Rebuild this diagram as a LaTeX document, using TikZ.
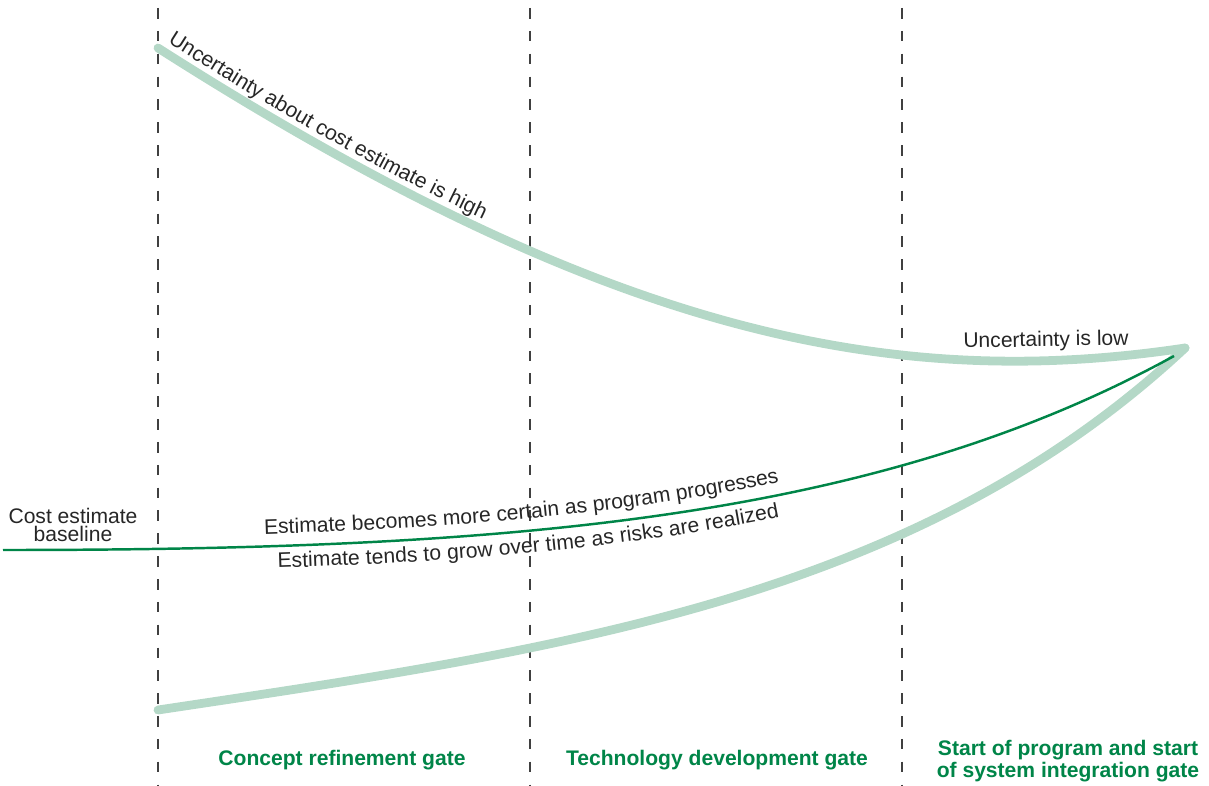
\documentclass[tikz,border=0pt]{standalone}
\usepackage{fontspec}
\setmainfont{Liberation Sans}
\usetikzlibrary{decorations.text}
\definecolor{bandgreen}{RGB}{180,216,199}
\definecolor{gategreen}{RGB}{0,133,72}
\tikzstyle{uncertaintyband}=[bandgreen,line width=5pt,line cap=round]
\tikzstyle{estimateline}=[gategreen,line width=1.4pt]
\tikzstyle{gateline}=[black!75,line width=0.6pt,dash pattern=on 6pt off 7pt]
\tikzstyle{gatelabel}=[gategreen,font=\fontsize{12}{10.4}\selectfont\bfseries,align=center,inner sep=0pt]
\tikzstyle{curvelabel}=[text=black!85,font=\fontsize{12}{10.4}\selectfont,align=center,inner sep=0pt]
\newcommand{\lbl}{\fontsize{12}{10.4}\selectfont}

\begin{document}
\begin{tikzpicture}[x=0.02cm,y=-0.02cm]
  \useasboundingbox (0,0) rectangle (1209,786);
  % gates
  \foreach \gx [count=\i] in {158,530,902} {
    \coordinate (gate\i top) at (\gx,8);
    \coordinate (gate\i bot) at (\gx,786);
    \draw[gateline] (gate\i top) -- (gate\i bot);
  }
  \coordinate (tip) at (1185,348);
  \coordinate (highstart) at (158,48);
  \coordinate (lowstart) at (158,710);
  \coordinate (basestart) at (3,550);
  \coordinate (baseend) at (1174,356);
  % uncertainty band and estimate
  \draw[uncertaintyband] (highstart) .. controls (600,330) and (885,393) .. (tip);
  \draw[uncertaintyband] (lowstart) .. controls (558,650) and (915,600) .. (tip);
  \draw[estimateline] (basestart) .. controls (503,550) and (874,521) .. (baseend);
  % texts on the curves
  \path[decorate,decoration={text along path,text={|\lbl|Uncertainty about cost estimate is high},
    text color=black!85,raise=5.5pt,text align={left indent=3pt}}]
    (highstart) .. controls (600,330) and (885,393) .. (tip);
  \path[decorate,decoration={text along path,text={|\lbl|Estimate becomes more certain as program progresses},
    text color=black!85,raise=7pt,text align={left indent=149pt}}]
    (basestart) .. controls (503,550) and (874,521) .. (baseend);
  \path[decorate,decoration={text along path,text={|\lbl|Estimate tends to grow over time as risks are realized},
    text color=black!85,raise=-12.5pt,text align={left indent=156pt}}]
    (basestart) .. controls (503,550) and (874,521) .. (baseend);
  \node[curvelabel,rotate=1] (low) at (1046,341) {Uncertainty is low};
  \node[curvelabel] (baseline) at (73,525) {Cost estimate\\baseline};
  % gate names
  \node[gatelabel] (concept) at (342,760) {Concept refinement gate};
  \node[gatelabel] (techdev) at (717,760) {Technology development gate};
  \node[gatelabel] (sysint) at (1068,761) {Start of program and start\\of system integration gate};
\end{tikzpicture}
\end{document}
